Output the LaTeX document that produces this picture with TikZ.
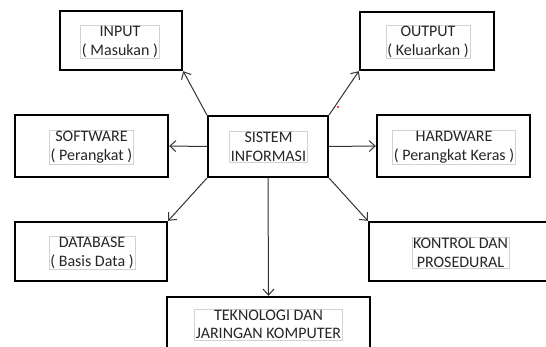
\documentclass[tikz,border=0pt]{standalone}
\usepackage{fontspec}
\setmainfont{Carlito}
\usetikzlibrary{arrows.meta}
\begin{document}
\begin{tikzpicture}[x=1pt,y=-1pt,
 outer/.style={draw=black,line width=2.4pt,rectangle,inner sep=0pt},
 lbl/.style={draw=gray!35,line width=0.6pt,inner sep=1.2pt,align=center,font=\fontsize{16}{18.5}\selectfont,text=black!85},
 conn/.style={draw=black!80,line width=1pt,-{Straight Barb[length=6pt,width=11pt]}}]
\useasboundingbox (0,0) rectangle (546,347);
\clip (0,0) rectangle (546,347);
\fill[white] (0,0) rectangle (546,347);
\node[outer,minimum width=122pt,minimum height=59pt] (in) at (121,40.5) {};
\node[outer,minimum width=134pt,minimum height=58pt] (out) at (427,41) {};
\node[outer,minimum width=153pt,minimum height=62pt] (sw) at (91.5,146) {};
\node[outer,minimum width=120pt,minimum height=61pt] (si) at (268,146.5) {};
\node[outer,minimum width=153pt,minimum height=62pt] (hw) at (453.5,146) {};
\node[outer,minimum width=152pt,minimum height=59pt] (db) at (91,251.5) {};
\node[outer,minimum width=183pt,minimum height=59pt] (kp) at (460.5,251.5) {};
\node[outer,minimum width=203pt,minimum height=55pt] (tk) at (268.5,324.5) {};
\node[lbl] (inT) at (120,42) {INPUT\\( Masukan )};
\node[lbl] (outT) at (428,42) {OUTPUT\\( Keluarkan )};
\node[lbl] (swT) at (91.5,147) {SOFTWARE\\( Perangkat )};
\node[lbl] (siT) at (268.5,147) {SISTEM\\INFORMASI};
\node[lbl] (hwT) at (454,147) {HARDWARE\\( Perangkat Keras )};
\node[lbl] (dbT) at (92,253) {DATABASE\\( Basis Data )};
\node[lbl] (kpT) at (460.5,253) {KONTROL DAN\\PROSEDURAL};
\node[lbl] (tkT) at (268.5,324.5) {TEKNOLOGI DAN\\JARINGAN KOMPUTER};
\draw[conn] (si.north west) -- (in.south east);
\draw[conn] (si.north east) -- (out.south west);
\draw[conn] (si.west) -- (sw.east);
\draw[conn] (si.east) -- (hw.west);
\draw[conn] (si.south west) -- (db.north east);
\draw[conn] (si.south east) -- (kp.north west);
\draw[conn] (si.south) -- (tk.north);
\fill[red] (338,107) circle (1.2pt);
\end{tikzpicture}
\end{document}
